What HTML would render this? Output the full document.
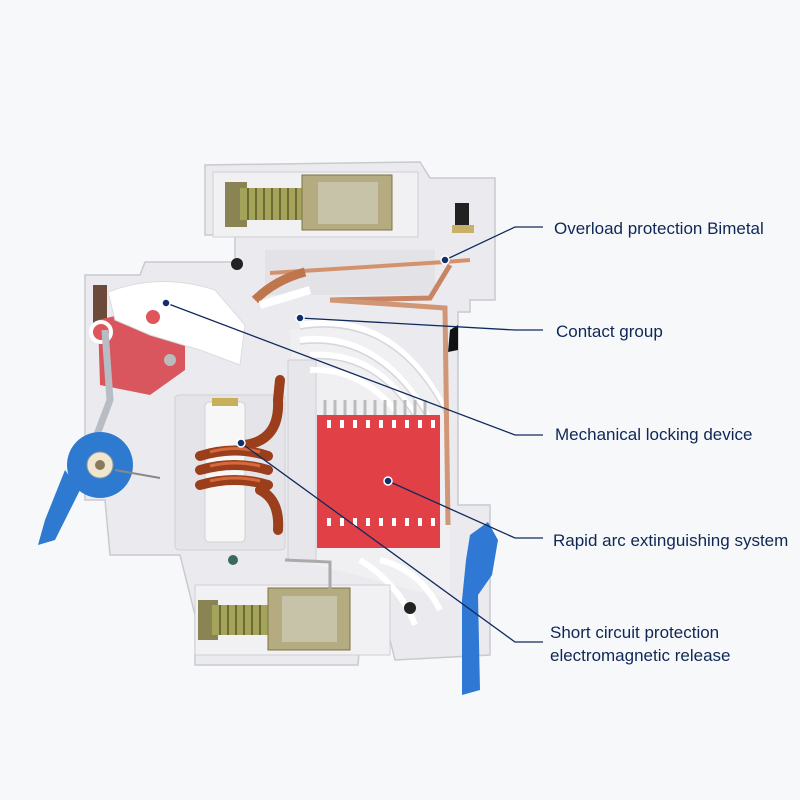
<!DOCTYPE html>
<html><head><meta charset="utf-8"><style>
html,body{margin:0;padding:0;background:#f7f8fa;}
svg{display:block}
text{font-family:"Liberation Sans","DejaVu Sans",sans-serif;font-size:17px;letter-spacing:0px;fill:#0f2756;}
</style></head><body>
<svg width="800" height="800" viewBox="0 0 800 800" xmlns="http://www.w3.org/2000/svg">
<rect width="800" height="800" fill="#f7f8fa"/>
<path d="M205,165 L420,162 L430,178 L495,178 L495,300 L470,300 L470,312 L458,312 L458,505 L490,505 L490,655 L395,660 L390,640 L360,640 L358,665 L195,665 L195,615 L180,555 L110,555 L105,500 L85,500 L85,275 L140,275 L145,262 L235,262 L235,235 L205,235 Z" fill="#ebebef" stroke="#c9c9cf" stroke-width="1.5"/>
<rect x="265" y="250" width="170" height="45" fill="#e2e2e7"/>
<path d="M290,330 Q400,310 450,420 L450,600 L300,560 Z" fill="#f0f0f3"/>
<rect x="175" y="395" width="110" height="155" rx="4" fill="#e4e4e9" stroke="#cfcfd5"/>
<rect x="288" y="360" width="28" height="200" fill="#e6e6eb" stroke="#cfcfd5"/>
<g fill="none" stroke="#ffffff" stroke-width="6">
<path d="M300,340 Q380,330 430,420"/>
<path d="M310,355 Q375,350 415,415"/>
<path d="M300,325 Q395,310 445,410"/>
<path d="M310,370 Q360,368 395,410"/>
<path d="M380,560 Q420,570 440,610"/>
<path d="M360,560 Q400,585 415,625"/>
</g>
<g fill="none" stroke="#d5d5db" stroke-width="1.5">
<path d="M300,344 Q380,334 430,424"/>
<path d="M310,359 Q375,354 415,419"/>
<path d="M300,329 Q395,314 445,414"/>
</g>
<circle cx="237" cy="264" r="6" fill="#222"/>
<circle cx="408" cy="196" r="6" fill="#222"/>
<circle cx="410" cy="608" r="6" fill="#222"/>
<path d="M450,330 L458,325 L458,350 L448,352 Z" fill="#111"/>
<rect x="213" y="172" width="205" height="65" fill="#f1f1f4" stroke="#cfcfd5"/>
<rect x="225" y="182" width="22" height="45" fill="#8a8455"/>
<rect x="240" y="188" width="65" height="32" fill="#a4a35a"/>
<g stroke="#6f6a35" stroke-width="2"><path d="M248,188v32M256,188v32M264,188v32M272,188v32M280,188v32M288,188v32M296,188v32"/></g>
<rect x="302" y="175" width="90" height="55" fill="#b4ab80" stroke="#7d7445"/>
<rect x="318" y="182" width="60" height="42" fill="#c7c3a9"/>
<rect x="455" y="203" width="14" height="25" fill="#222"/>
<rect x="452" y="225" width="22" height="8" fill="#c8b06a"/>
<path d="M270,273 L445,262 L470,260" stroke="#d4926c" stroke-width="4" fill="none"/>
<path d="M330,300 L430,298 L450,265" stroke="#c98463" stroke-width="5" fill="none"/>
<path d="M330,300 L445,308 L448,525" stroke="#d19675" stroke-width="5" fill="none"/>
<path d="M255,300 Q275,280 305,272" stroke="#c0764d" stroke-width="9" fill="none"/>
<path d="M260,305 L310,290" stroke="#fff" stroke-width="8"/>
<rect x="93" y="285" width="14" height="45" fill="#6b4a3a"/>
<path d="M98,320 L140,310 L185,330 L185,370 L150,395 L100,385 Z" fill="#d9565e"/>
<path d="M108,292 Q160,272 215,290 L245,325 L240,365 L200,350 L150,335 L115,320 Z" fill="#ffffff" stroke="#dcdce0"/>
<circle cx="153" cy="317" r="7" fill="#e0555c"/>
<circle cx="101" cy="332" r="10" fill="#e0555c" stroke="#fff" stroke-width="4"/>
<circle cx="170" cy="360" r="6" fill="#bbb"/>
<path d="M105,330 L110,400 L95,440" stroke="#b8bcc4" stroke-width="7" fill="none"/>
<circle cx="100" cy="465" r="33" fill="#2e7ad0"/>
<path d="M65,470 L45,520 L38,545 L55,540 L80,490 Z" fill="#2e7ad0"/>
<circle cx="100" cy="465" r="13" fill="#efe6d0" stroke="#999"/>
<circle cx="100" cy="465" r="5" fill="#8a7a5a"/>
<path d="M115,470 L160,478" stroke="#888" stroke-width="2"/>
<rect x="205" y="402" width="40" height="140" rx="4" fill="#f7f7f8" stroke="#d0d0d5"/>
<rect x="212" y="398" width="26" height="8" fill="#c8b05a"/>
<g stroke="#9a3e1c" stroke-width="10" fill="none" stroke-linecap="round">
<path d="M200,456 Q235,445 268,456"/>
<path d="M200,470 Q235,460 268,470"/>
<path d="M200,485 Q235,475 268,485"/>
<path d="M245,445 Q280,440 278,400 L280,380"/>
<path d="M260,490 Q280,500 278,530"/>
</g>
<g stroke="#d66a3c" stroke-width="3" fill="none"><path d="M210,452 Q235,445 260,452"/><path d="M210,466 Q235,460 260,466"/><path d="M210,481 Q235,475 260,481"/></g>
<circle cx="233" cy="560" r="5" fill="#3a6b5a"/>
<g stroke="#bbb" stroke-width="3"><path d="M325,400v20M335,400v20M345,400v20M355,400v20M365,400v20M375,400v20M385,400v20M395,400v20M405,400v20M415,400v20M425,400v20"/></g>
<rect x="317" y="415" width="123" height="133" fill="#e04046"/>
<g fill="#fff"><rect x="327" y="420" width="4" height="8"/><rect x="340" y="420" width="4" height="8"/><rect x="353" y="420" width="4" height="8"/><rect x="366" y="420" width="4" height="8"/><rect x="379" y="420" width="4" height="8"/><rect x="392" y="420" width="4" height="8"/><rect x="405" y="420" width="4" height="8"/><rect x="418" y="420" width="4" height="8"/><rect x="431" y="420" width="4" height="8"/>
<rect x="327" y="518" width="4" height="8"/><rect x="340" y="518" width="4" height="8"/><rect x="353" y="518" width="4" height="8"/><rect x="366" y="518" width="4" height="8"/><rect x="379" y="518" width="4" height="8"/><rect x="392" y="518" width="4" height="8"/><rect x="405" y="518" width="4" height="8"/><rect x="418" y="518" width="4" height="8"/><rect x="431" y="518" width="4" height="8"/></g>
<rect x="195" y="585" width="195" height="70" fill="#f1f1f4" stroke="#cfcfd5"/>
<rect x="198" y="600" width="20" height="40" fill="#8a8455"/>
<rect x="212" y="605" width="60" height="30" fill="#a4a35a"/>
<g stroke="#6f6a35" stroke-width="2"><path d="M220,605v30M228,605v30M236,605v30M244,605v30M252,605v30M260,605v30"/></g>
<rect x="268" y="588" width="82" height="62" fill="#b4ab80" stroke="#7d7445"/>
<rect x="282" y="596" width="55" height="46" fill="#c7c3a9"/>
<path d="M285,560 L330,562 L330,590" stroke="#aaa" stroke-width="3" fill="none"/>
<path d="M470,535 L488,522 L498,540 L492,575 L478,595 L480,690 L462,695 L462,600 L466,560 Z" fill="#2f78d4"/>
<g stroke="#102a5c" stroke-width="1.3" fill="none">
<path d="M445,260 L515,227 L543,227"/>
<path d="M300,318 L515,330 L543,330"/>
<path d="M166,303 L515,435 L543,435"/>
<path d="M388,481 L515,538 L543,538"/>
<path d="M241,443 L515,642 L543,642"/>
</g>
<g fill="#0f2f6e" stroke="#fff" stroke-width="1.5">
<circle cx="445" cy="260" r="4"/><circle cx="300" cy="318" r="4"/><circle cx="166" cy="303" r="4"/><circle cx="388" cy="481" r="4"/><circle cx="241" cy="443" r="4"/>
</g>
<text x="554" y="234">Overload protection Bimetal</text>
<text x="556" y="337">Contact group</text>
<text x="555" y="440">Mechanical locking device</text>
<text x="553" y="546">Rapid arc extinguishing system</text>
<text x="550" y="638">Short circuit protection</text>
<text x="550" y="661">electromagnetic release</text>
</svg>
</body></html>
